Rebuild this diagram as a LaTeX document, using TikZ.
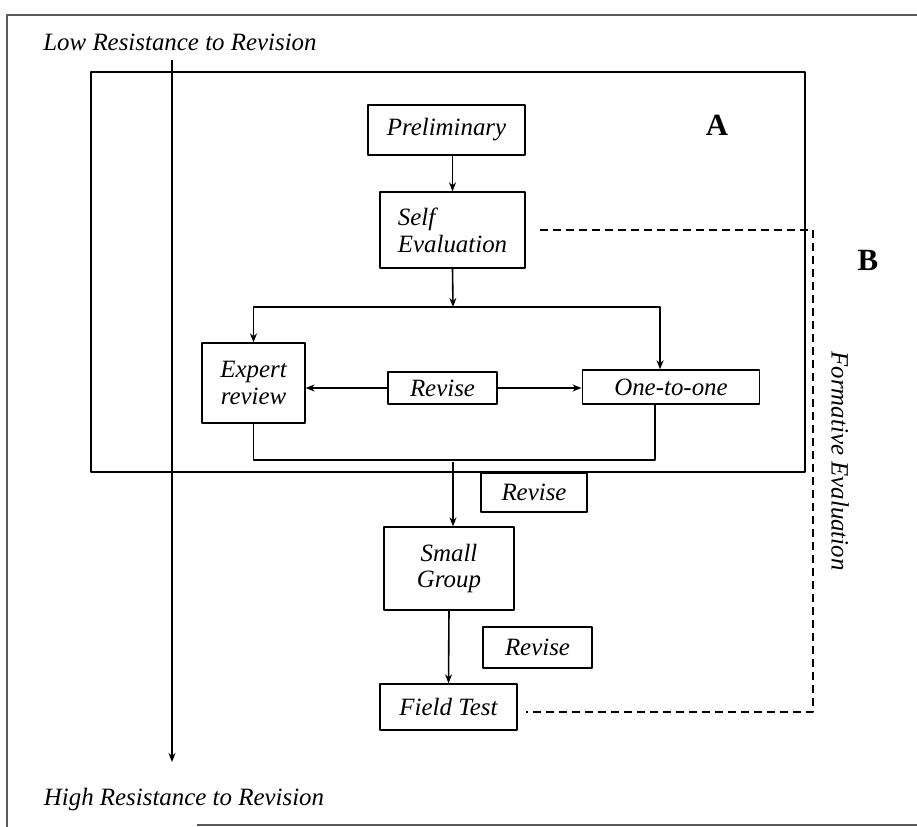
\documentclass[tikz,border=0pt]{standalone}
\usepackage{fontspec}
\setmainfont{Liberation Serif}
\usetikzlibrary{arrows.meta}
\begin{document}
\begin{tikzpicture}[x=1bp, y=-1bp, line join=round, >={Stealth[length=9bp,width=7bp]}, line width=1.6bp,
    box/.style={draw, font=\fontsize{25}{27}\selectfont\itshape, inner sep=2bp},
    lbl/.style={font=\fontsize{25}{27}\selectfont\itshape},
    tag/.style={font=\fontsize{31}{33}\selectfont\bfseries}]
    \useasboundingbox (0,0) rectangle (917,827);
    % outer frame
    \draw[gray!70!black] (917,15) -- (7,15) -- (7,827);
    \draw[gray!70!black] (197,825) -- (917,825);
    % box A
    \draw (91,72) rectangle (805,472);
    \node[tag] (tagA) at (717,125) {A};
    \node[tag] (tagB) at (868,260) {B};
    % resistance axis
    \node[lbl] (low) at (180,42) {Low Resistance to Revision};
    \node[lbl] (high) at (184,800) {High Resistance to Revision};
    \coordinate (axtop) at (172,60);
    \coordinate (axbot) at (172,762);
    \draw[->, line width=1.3bp] (axtop) -- (axbot);
    % stages
    \node[box, minimum width=157, minimum height=50] (pre) at (446.5,130) {Preliminary};
    \node[box, minimum width=145, minimum height=76, align=left] (self) at (452.5,230) {Self\\Evaluation};
    \node[box, minimum width=103, minimum height=80, align=center] (expert) at (253.5,383) {Expert\\review};
    \node[box, minimum width=109, minimum height=32] (rev1) at (442.5,388) {Revise};
    \node[box, minimum width=178, minimum height=34] (one) at (671,387) {One-to-one};
    \node[box, minimum width=106, minimum height=39] (rev2) at (534,492.5) {Revise};
    \node[box, minimum width=130, minimum height=83, align=center] (small) at (449,568.5) {Small\\Group};
    \node[box, minimum width=109, minimum height=41] (rev3) at (537.5,647.5) {Revise};
    \node[box, minimum width=137, minimum height=46] (field) at (448.5,707) {Field Test};
    \node[lbl, rotate=-90] (formative) at (840,461) {Formative Evaluation};
    % connectors
    \coordinate (split) at (453,307);
    \coordinate (merge) at (453,460);
    \coordinate (bcorner) at (813,712);
    \draw[->] (self.north |- pre.south) -- (self.north);
    \draw[->] (self.south) -- (split);
    \draw[<->] (expert.north) |- (split) -| ([xshift=-11]one.north);
    \draw[->] (rev1.west) -- (rev1.west -| expert.east);
    \draw[->] (rev1.east) -- (rev1.east -| one.west);
    \draw (expert.south) |- (merge) -| ([xshift=-16]one.south);
    \draw[->] ([yshift=-2]merge) -- (merge |- small.north);
    \draw[->] (small.south) -- (field.north);
    \draw[dash pattern=on 8bp off 5bp, shorten <=15, shorten >=8] (self.east) -| (bcorner) -- (field.east |- bcorner);
\end{tikzpicture}
\end{document}
